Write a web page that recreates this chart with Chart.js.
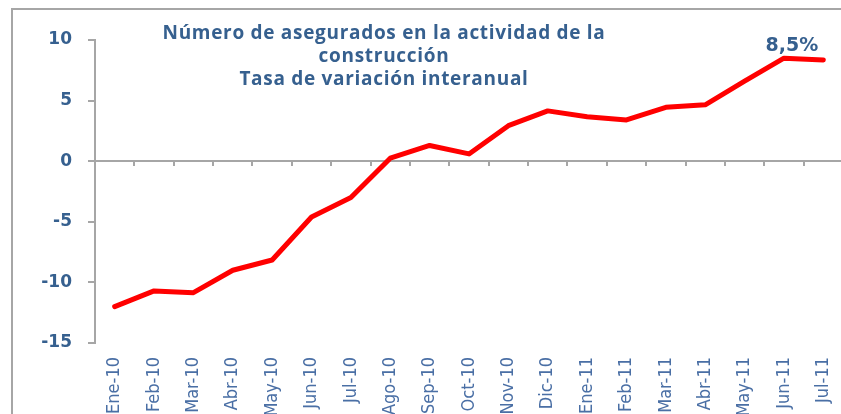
<!DOCTYPE html>
<html>
<head>
<meta charset="utf-8">
<script src="https://cdn.jsdelivr.net/npm/chart.js@4"></script>
<style>
  html, body { margin: 0; padding: 0; background: #fff; overflow: hidden; }
  #wrap { position: relative; width: 841px; height: 414px; overflow: hidden; }
  #frame { position: absolute; left: 11px; top: 8px; width: 900px; height: 500px;
           border-left: 2px solid #a6a6a6; border-top: 2px solid #a6a6a6; }
  #box { position: absolute; left: 0; top: 0; width: 850px; height: 414px; }
</style>
</head>
<body>
<div id="wrap">
  <div id="frame"></div>
  <div id="box"><canvas id="myChart" width="850" height="414"></canvas></div>
</div>
<script>
// months (x axis)
const months = ['Ene-10','Feb-10','Mar-10','Abr-10','May-10','Jun-10','Jul-10','Ago-10','Sep-10',
  'Oct-10','Nov-10','Dic-10','Ene-11','Feb-11','Mar-11','Abr-11','May-11','Jun-11','Jul-11']
// tasa de variacion interanual, %
const tasa = [-12.0, -10.7, -10.85, -9.0, -8.15, -4.6, -3.0, 0.25, 1.3,
  0.6, 2.93, 4.15, 3.66, 3.4, 4.45, 4.65, 6.6, 8.5, 8.35]
const yTicks = [-15, -10, -5, 0, 5, 10]
const titleLines = ['Número de asegurados en la actividad de la', 'construcción', 'Tasa de variación interanual']
const labelIndex = 17

const blue = '#36608f'
const axisGray = '#a6a6a6'

const titlePlugin = {
  id: 'titleText',
  afterDatasetsDraw(chart) {
    const ctx = chart.ctx
    ctx.save()
    ctx.fillStyle = blue
    ctx.textAlign = 'center'
    ctx.textBaseline = 'alphabetic'
    ctx.font = 'bold 19px "Open Sans"'
    ctx.letterSpacing = '0.7px'
    const base = [39, 62, 85]
    titleLines.forEach((t, i) => ctx.fillText(t, 384, base[i]))
    ctx.letterSpacing = '0px'

    // etiqueta del dato de Jun-11
    const pt = chart.getDatasetMeta(0).data[labelIndex]
    ctx.font = 'bold 19px "DejaVu Sans"'
    ctx.fillText(tasa[labelIndex].toFixed(1).replace('.', ',') + '%', pt.x + 8, pt.y - 7)
    ctx.restore()
  }
}

new Chart(document.getElementById('myChart').getContext('2d'), {
  type: 'line',
  data: {
    labels: months,
    datasets: [{
      data: tasa,
      borderColor: '#ff0000',
      borderWidth: 5,
      pointRadius: 0,
      tension: 0,
      borderJoinStyle: 'round',
      borderCapStyle: 'round'
    }]
  },
  options: {
    responsive: false,
    animation: false,
    layout: { padding: { top: 40, right: 7, left: 0, bottom: 0 } },
    plugins: { legend: { display: false }, tooltip: { enabled: false } },
    scales: {
      x: {
        offset: true,
        grid: { display: false, drawTicks: false },
        border: { display: false },
        ticks: {
          autoSkip: false,
          minRotation: 90,
          maxRotation: 90,
          padding: 14,
          color: '#4a6fa5',
          font: { family: '"Liberation Sans Narrow", "DejaVu Sans Condensed", sans-serif', size: 18 }
        },
        afterFit(scale) {
          scale.height = 71
          scale.paddingLeft = 0
          scale.paddingRight = 0
        }
      },
      x0: {
        type: 'category',
        position: { y: 0 },
        offset: true,
        grid: { offset: true, drawOnChartArea: false, tickLength: 5, color: axisGray, lineWidth: 2 },
        border: { display: false },
        ticks: { display: false }
      },
      y: {
        min: -15,
        max: 10,
        afterBuildTicks(scale) { scale.ticks = yTicks.map(v => ({ value: v })) },
        grid: {
          color: c => c.tick && c.tick.value === 0 ? axisGray : 'rgba(0,0,0,0)',
          tickColor: axisGray,
          lineWidth: 2,
          tickLength: 7
        },
        border: { color: axisGray, width: 2 },
        ticks: {
          padding: 16,
          color: blue,
          font: { family: '"DejaVu Sans"', size: 17, weight: 'bold' }
        },
        afterFit(scale) { scale.width = 95 }
      }
    }
  },
  plugins: [titlePlugin]
})
</script>
</body>
</html>
